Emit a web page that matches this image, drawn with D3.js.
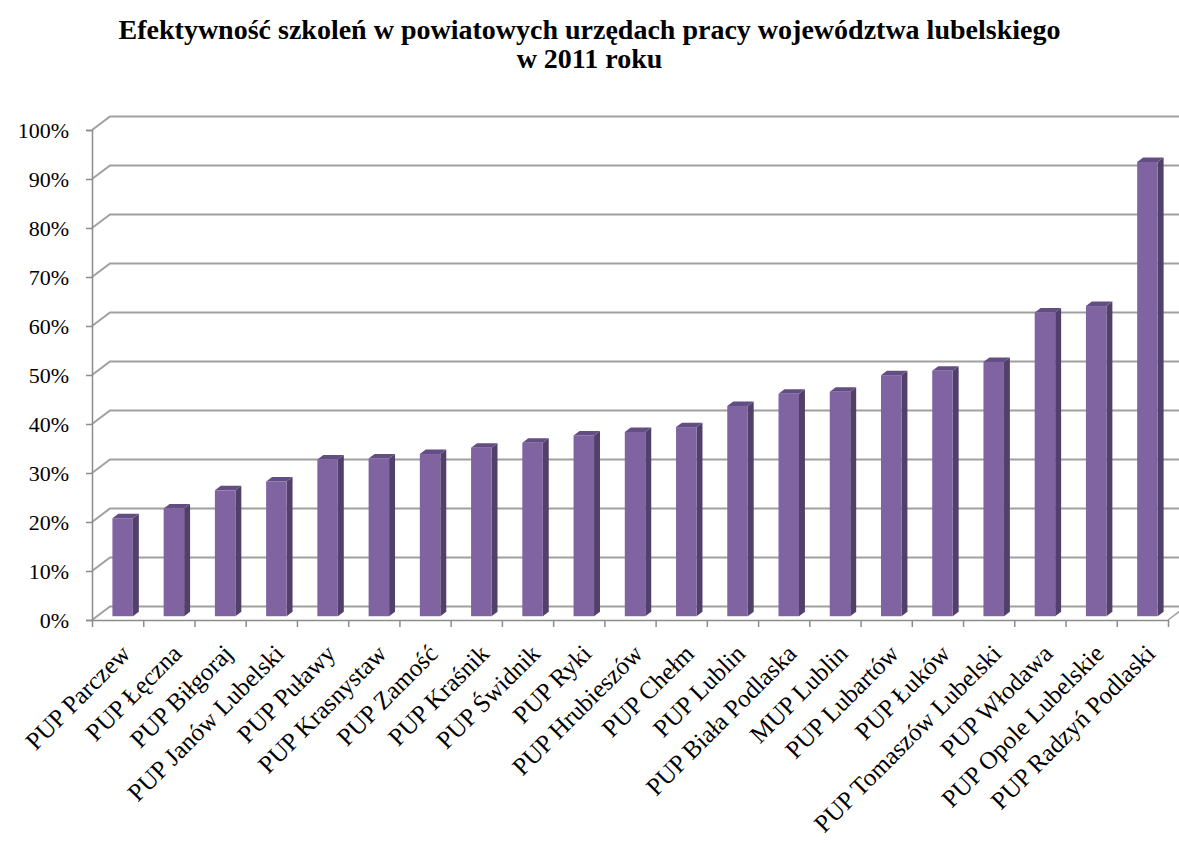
<!DOCTYPE html>
<html lang="pl">
<head>
<meta charset="UTF-8">
<title>Efektywność szkoleń</title>
<script src="https://d3js.org/d3.v7.min.js"></script>
<style>
  body { margin: 0; background: #fff; }
  svg text { font-family: "Liberation Serif", "Times New Roman", serif; fill: #000; }
</style>
</head>
<body>
<div id="chart"></div>
<script>
var categories = ["PUP Parczew", "PUP Łęczna", "PUP Biłgoraj", "PUP Janów Lubelski", "PUP Puławy",
  "PUP Krasnystaw", "PUP Zamość", "PUP Kraśnik", "PUP Świdnik", "PUP Ryki", "PUP Hrubieszów",
  "PUP Chełm", "PUP Lublin", "PUP Biała Podlaska", "MUP Lublin", "PUP Lubartów", "PUP Łuków",
  "PUP Tomaszów Lubelski", "PUP Włodawa", "PUP Opole Lubelskie", "PUP Radzyń Podlaski"];
var values = [0.200, 0.220, 0.257, 0.275, 0.320, 0.322, 0.331, 0.344, 0.354, 0.369, 0.376,
  0.386, 0.429, 0.454, 0.458, 0.492, 0.501, 0.519, 0.620, 0.633, 0.927];
var yTicks = [0, 0.1, 0.2, 0.3, 0.4, 0.5, 0.6, 0.7, 0.8, 0.9, 1.0];
var titleLines = ["Efektywność szkoleń w powiatowych urzędach pracy województwa lubelskiego", "w 2011 roku"];

var W = 1179, H = 843;
var mLeft = 92, mRight = 1168, mBottom = 620, mTop = 130;
var DX = 18, DY = -13.5;           // full depth of the 3D floor
var d0 = 0.28, d1 = 0.61;           // bar depth range

var svg = d3.select("#chart").append("svg").attr("width", W).attr("height", H);

// title
svg.append("g").selectAll("text").data(titleLines).enter().append("text")
  .attr("x", W / 2).attr("y", function (d, i) { return 38.5 + i * 29.5; })
  .attr("text-anchor", "middle").style("font-size", "28px").style("font-weight", "bold")
  .text(function (d) { return d; });

var y = d3.scaleLinear().domain([0, 1]).range([mBottom, mTop]);
var x = d3.scaleBand().domain(categories).range([mLeft, mRight]).paddingInner(0.6).paddingOuter(0.3);
var xi = d3.scaleLinear().domain([0, categories.length]).range([mLeft, mRight]);

var gridColor = "#a0a0a0";

// back wall gridlines
svg.append("g").selectAll("path").data(yTicks).enter().append("path")
  .attr("d", function (v) {
    return "M" + mLeft + "," + y(v) + "L" + (mLeft + DX) + "," + (y(v) + DY) + "L" + (W + 10) + "," + (y(v) + DY);
  })
  .attr("fill", "none").attr("stroke", gridColor).attr("stroke-width", 2);

// floor right edge
svg.append("path")
  .attr("d", "M" + mRight + "," + mBottom + "L" + (mRight + DX) + "," + (mBottom + DY))
  .attr("stroke", gridColor).attr("stroke-width", 1.5);

// y axis
var yAxis = svg.append("g").attr("transform", "translate(" + mLeft + ",0)")
  .call(d3.axisLeft(y).tickValues(yTicks).tickFormat(d3.format(".0%")).tickSize(6).tickPadding(17))
  .attr("font-family", null).attr("font-size", null);
yAxis.selectAll("path, line").attr("stroke", "#8c8c8c").attr("stroke-width", 1.5);
yAxis.selectAll("text").style("font-size", "22px").attr("dy", "0.33em");

// x axis (ticks at category boundaries)
var xAxis = svg.append("g").attr("transform", "translate(0," + mBottom + ")")
  .call(d3.axisBottom(xi).tickValues(d3.range(categories.length + 1)).tickFormat("").tickSize(7).tickSizeOuter(0));
xAxis.selectAll("path, line").attr("stroke", "#8c8c8c").attr("stroke-width", 1.5);

// bars
var bars = svg.append("g").selectAll("g").data(categories).enter().append("g");
var bw = x.bandwidth();
var sdx = (d1 - d0) * DX, sdy = (d1 - d0) * DY;
function fx(c) { return x(c) + d0 * DX; }
function fy(v) { return y(v) + d0 * DY; }

bars.append("path") // side
  .attr("d", function (c, i) {
    var x1 = fx(c) + bw, yt = fy(values[i]), yb = fy(0);
    return "M" + x1 + "," + yb + "L" + x1 + "," + yt + "L" + (x1 + sdx) + "," + (yt + sdy) + "L" + (x1 + sdx) + "," + (yb + sdy) + "Z";
  })
  .attr("fill", "#514069");
bars.append("path") // top
  .attr("d", function (c, i) {
    var x0 = fx(c), yt = fy(values[i]);
    return "M" + x0 + "," + yt + "L" + (x0 + bw) + "," + yt + "L" + (x0 + bw + sdx) + "," + (yt + sdy) + "L" + (x0 + sdx) + "," + (yt + sdy) + "Z";
  })
  .attr("fill", "#634e84");
bars.append("rect") // front
  .attr("x", function (c) { return fx(c); })
  .attr("y", function (c, i) { return fy(values[i]); })
  .attr("width", bw)
  .attr("height", function (c, i) { return fy(0) - fy(values[i]); })
  .attr("fill", "#8064a2");

// category labels
svg.append("g").selectAll("text").data(categories).enter().append("text")
  .attr("transform", function (c) {
    return "translate(" + (x(c) + bw / 2 + 8) + "," + (mBottom + 29) + ") rotate(-45)";
  })
  .attr("text-anchor", "end").attr("dy", "0.35em")
  .style("font-size", "25px")
  .text(function (c) { return c; });
</script>
</body>
</html>
